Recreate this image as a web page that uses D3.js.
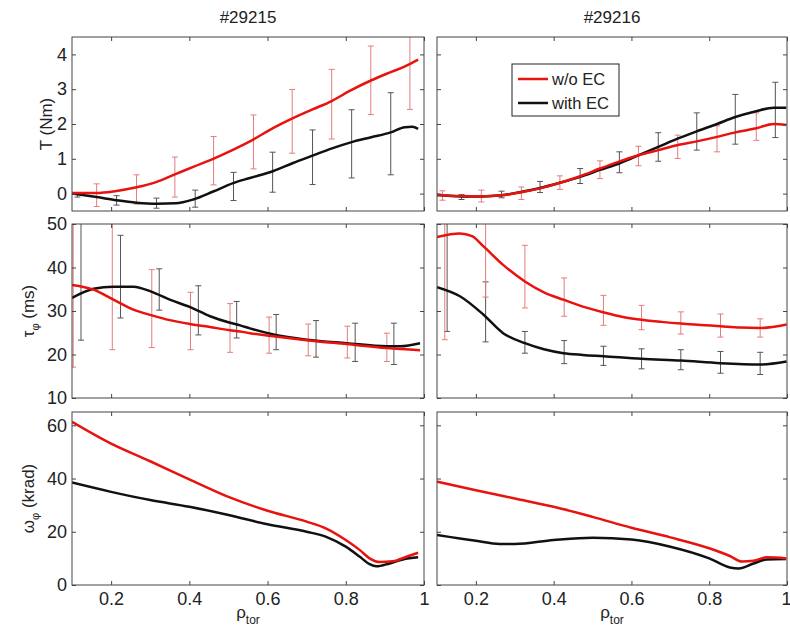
<!DOCTYPE html>
<html>
<head>
<meta charset="utf-8">
<script src="https://cdn.jsdelivr.net/npm/d3@7"></script>
<style>
  body { margin: 0; background: #fff; }
  text { font-family: "Liberation Sans", Arial, sans-serif; fill: #222; }
</style>
</head>
<body>
<div id="vis"></div>
<script>
// ---- data: [rho, value] and error bars [rho, low, high]
var xTicks = [0.2, 0.4, 0.6, 0.8, 1];
var shots = ["#29215", "#29216"];
var seriesNames = ["w/o EC", "with EC"];

// torque T (Nm)
var torque15_wo = [[0.1,0.02],[0.163,0.02],[0.21,0.07],[0.265,0.18],[0.315,0.33],[0.363,0.55],[0.41,0.77],[0.461,1.0],[0.51,1.25],[0.555,1.5],[0.615,1.89],[0.665,2.17],[0.715,2.42],[0.764,2.66],[0.81,2.95],[0.864,3.25],[0.91,3.47],[0.95,3.65],[0.985,3.85]];
var torque15_with = [[0.1,0.0],[0.163,-0.1],[0.214,-0.19],[0.265,-0.26],[0.317,-0.29],[0.365,-0.28],[0.41,-0.17],[0.461,0.06],[0.512,0.3],[0.555,0.45],[0.615,0.65],[0.665,0.88],[0.715,1.09],[0.765,1.3],[0.815,1.48],[0.865,1.62],[0.915,1.76],[0.951,1.91],[0.97,1.92],[0.985,1.86]];
var torque15_woErr = [[0.163,-0.37,0.28],[0.265,-0.3,0.54],[0.363,-0.1,1.05],[0.462,0.25,1.64],[0.564,0.71,2.26],[0.663,1.16,2.99],[0.764,1.57,3.57],[0.864,2.27,4.24],[0.964,2.42,4.9]];
var torque15_withErr = [[0.114,-0.1,0.02],[0.214,-0.33,-0.06],[0.316,-0.42,-0.13],[0.415,-0.39,0.1],[0.513,-0.2,0.61],[0.613,0.04,1.19],[0.715,0.26,1.83],[0.815,0.45,2.41],[0.915,0.54,2.9]];

var torque16_wo = [[0.1,-0.04],[0.159,-0.07],[0.214,-0.08],[0.265,-0.05],[0.313,0.03],[0.365,0.15],[0.416,0.31],[0.468,0.5],[0.519,0.72],[0.568,0.92],[0.618,1.1],[0.669,1.25],[0.717,1.39],[0.768,1.5],[0.82,1.63],[0.867,1.76],[0.918,1.87],[0.966,2.0],[0.998,1.97]];
var torque16_with = [[0.1,-0.04],[0.163,-0.08],[0.214,-0.08],[0.266,-0.05],[0.313,0.04],[0.365,0.16],[0.416,0.31],[0.468,0.48],[0.519,0.68],[0.571,0.88],[0.618,1.1],[0.669,1.34],[0.717,1.57],[0.768,1.79],[0.82,2.0],[0.867,2.2],[0.918,2.36],[0.966,2.47],[0.998,2.47]];
var torque16_woErr = [[0.114,-0.19,0.08],[0.214,-0.24,0.1],[0.317,-0.17,0.19],[0.416,0.12,0.51],[0.519,0.43,0.94],[0.618,0.8,1.36],[0.719,1.01,1.68],[0.82,1.2,1.95],[0.921,1.53,2.32]];
var torque16_withErr = [[0.163,-0.17,-0.03],[0.266,-0.12,0.07],[0.365,0.03,0.35],[0.468,0.29,0.72],[0.569,0.6,1.2],[0.669,0.93,1.75],[0.768,1.25,2.32],[0.867,1.42,2.85],[0.97,1.61,3.2]];

// momentum confinement time tau (ms)
var tau15_wo = [[0.1,36.0],[0.155,34.9],[0.206,32.6],[0.257,30.3],[0.304,29.0],[0.35,27.9],[0.402,27.0],[0.453,26.3],[0.504,25.6],[0.53,25.3],[0.555,24.9],[0.615,24.2],[0.7,23.3],[0.802,22.4],[0.905,21.5],[0.99,21.0]];
var tau15_with = [[0.1,33.0],[0.155,35.1],[0.206,35.6],[0.257,35.6],[0.304,34.4],[0.35,32.6],[0.402,30.9],[0.453,28.8],[0.504,27.3],[0.53,26.7],[0.555,26.0],[0.615,24.6],[0.7,23.4],[0.802,22.6],[0.905,21.9],[0.939,21.9],[0.99,22.6]];
var tau15_woErr = [[0.103,17.1,55],[0.203,21.1,55],[0.304,21.6,39.5],[0.403,21.1,34.3],[0.504,20.5,31.7],[0.604,20.3,28.6],[0.704,19.7,27.0],[0.804,19.2,26.5],[0.905,18.4,24.9]];
var tau15_withErr = [[0.123,23.3,55],[0.224,28.4,47.4],[0.323,30.2,39.7],[0.423,24.5,35.8],[0.521,23.8,32.2],[0.622,21.1,29.2],[0.724,19.4,27.8],[0.824,18.4,27.2],[0.923,17.7,27.2]];

var tau16_wo = [[0.1,47.0],[0.159,47.8],[0.19,47.2],[0.219,44.9],[0.27,40.6],[0.326,36.8],[0.375,34.3],[0.425,32.6],[0.475,31.0],[0.528,29.7],[0.575,28.7],[0.626,28.0],[0.677,27.5],[0.727,27.1],[0.778,26.8],[0.829,26.5],[0.88,26.2],[0.931,26.1],[0.999,26.9]];
var tau16_with = [[0.1,35.5],[0.159,33.4],[0.219,29.2],[0.27,24.9],[0.326,22.6],[0.375,21.2],[0.425,20.3],[0.475,19.9],[0.528,19.6],[0.626,19.0],[0.727,18.6],[0.829,18.0],[0.931,17.7],[0.999,18.4]];
var tau16_woErr = [[0.12,23.4,71],[0.225,33.2,56],[0.326,30.7,45.1],[0.427,28.8,37.6],[0.528,26.7,33.6],[0.626,25.7,31.3],[0.727,24.7,29.8],[0.829,24.0,29.3],[0.931,24.0,28.2]];
var tau16_withErr = [[0.126,25.3,55],[0.225,22.9,36.7],[0.326,20.3,25.3],[0.427,17.9,23.2],[0.528,17.5,21.9],[0.626,16.7,21.3],[0.727,16.5,21.1],[0.829,15.7,20.7],[0.931,15.4,20.5]];

// toroidal rotation omega (krad)
var omega15_wo = [[0.1,61.3],[0.2,53.1],[0.3,46.5],[0.4,39.7],[0.5,33.1],[0.6,27.9],[0.7,23.8],[0.75,21.2],[0.8,16.9],[0.836,13.1],[0.861,10.0],[0.887,8.6],[0.92,8.9],[0.955,10.6],[0.985,12.1]];
var omega15_with = [[0.1,38.5],[0.2,35.0],[0.3,31.9],[0.4,29.4],[0.5,26.3],[0.6,22.8],[0.7,20.0],[0.75,18.1],[0.8,14.4],[0.836,10.6],[0.861,7.8],[0.878,7.0],[0.912,8.1],[0.946,9.6],[0.985,10.4]];
var omega16_wo = [[0.1,38.8],[0.2,35.6],[0.3,32.5],[0.4,29.4],[0.5,25.6],[0.6,21.5],[0.7,17.9],[0.8,13.8],[0.853,10.9],[0.884,8.8],[0.914,9.1],[0.948,10.4],[0.998,10.0]];
var omega16_with = [[0.1,18.8],[0.2,16.6],[0.261,15.4],[0.3,15.4],[0.4,16.9],[0.5,17.8],[0.6,17.1],[0.7,14.4],[0.8,10.0],[0.853,6.6],[0.876,6.2],[0.914,8.1],[0.948,9.6],[0.998,9.8]];

var torqueTicks = [0, 1, 2, 3, 4];
var tauTicks = [10, 20, 30, 40, 50];
var omegaTicks = [0, 20, 40, 60];

// ---- layout
var width = 790, height = 633;
var red = "#e8120f", black = "#111", redBar = "#e57c7c", blackBar = "#555";
var tickFont = 18, labelFont = 17;

var svg = d3.select("#vis").append("svg")
    .attr("width", width)
    .attr("height", height);

var cols = [{x0: 72, x1: 424}, {x0: 437, x1: 787}];
var rows = [
  {y0: 37, y1: 211, domain: [-0.5, 4.5], ticks: torqueTicks, label: [["T (Nm)"]], lx: 52},
  {y0: 224, y1: 398, domain: [10, 50], ticks: tauTicks, label: [["τ"], ["φ", "sub"], [" (ms)"]], lx: 34},
  {y0: 412, y1: 585, domain: [0, 65], ticks: omegaTicks, label: [["ω"], ["φ", "sub"], [" (krad)"]], lx: 34}
];

var panels = [
  {r: 0, c: 0, lines: [[torque15_with, torque15_withErr], [torque15_wo, torque15_woErr]]},
  {r: 0, c: 1, lines: [[torque16_with, torque16_withErr], [torque16_wo, torque16_woErr]]},
  {r: 1, c: 0, lines: [[tau15_with, tau15_withErr], [tau15_wo, tau15_woErr]]},
  {r: 1, c: 1, lines: [[tau16_with, tau16_withErr], [tau16_wo, tau16_woErr]]},
  {r: 2, c: 0, lines: [[omega15_with, null], [omega15_wo, null]]},
  {r: 2, c: 1, lines: [[omega16_with, null], [omega16_wo, null]]}
];

function styleAxis(g) {
  g.select(".domain").remove();
  g.selectAll(".tick line").attr("stroke", "#444");
  g.selectAll(".tick text").attr("font-size", tickFont)
      .attr("font-family", "Liberation Sans, Arial, sans-serif").attr("fill", "#1a1a1a");
}

panels.forEach(function (p, i) {
  var col = cols[p.c], row = rows[p.r];
  var x = d3.scaleLinear().domain([0.1, 1]).range([col.x0, col.x1]);
  var y = d3.scaleLinear().domain(row.domain).range([row.y1, row.y0]);
  var none = function () { return ""; };

  svg.append("clipPath").attr("id", "clip" + i)
    .append("rect").attr("x", col.x0).attr("y", row.y0)
    .attr("width", col.x1 - col.x0).attr("height", row.y1 - row.y0);

  var g = svg.append("g").attr("clip-path", "url(#clip" + i + ")");

  // error bars first, black series then red
  p.lines.forEach(function (s, k) {
    if (!s[1]) return;
    var col2 = k === 0 ? blackBar : redBar;
    var eb = g.selectAll(null).data(s[1]).enter().append("g")
        .attr("stroke", col2).attr("stroke-width", 1).attr("fill", "none");
    eb.append("line")
        .attr("x1", function (d) { return x(d[0]); }).attr("x2", function (d) { return x(d[0]); })
        .attr("y1", function (d) { return y(d[1]); }).attr("y2", function (d) { return y(d[2]); });
    eb.append("line")
        .attr("x1", function (d) { return x(d[0]) - 3; }).attr("x2", function (d) { return x(d[0]) + 3; })
        .attr("y1", function (d) { return y(d[1]); }).attr("y2", function (d) { return y(d[1]); });
    eb.append("line")
        .attr("x1", function (d) { return x(d[0]) - 3; }).attr("x2", function (d) { return x(d[0]) + 3; })
        .attr("y1", function (d) { return y(d[2]); }).attr("y2", function (d) { return y(d[2]); });
  });

  var line = d3.line()
      .x(function (d) { return x(d[0]); })
      .y(function (d) { return y(d[1]); })
      .curve(d3.curveMonotoneX);

  p.lines.forEach(function (s, k) {
    g.append("path").datum(s[0])
      .attr("d", line)
      .attr("fill", "none")
      .attr("stroke", k === 0 ? black : red)
      .attr("stroke-width", 2.5);
  });

  // axes: inward ticks on all four sides
  var bottom = svg.append("g").attr("transform", "translate(0," + row.y1 + ")")
    .call(d3.axisBottom(x).tickValues(xTicks).tickSizeInner(-4).tickSizeOuter(0).tickPadding(7)
      .tickFormat(p.r === 2 ? d3.format("") : none))
    .call(styleAxis);
  // the last "1" sits at the page edge in the right column, keep it on the page
  if (p.r === 2 && p.c === 1) {
    bottom.selectAll(".tick text").filter(function (d) { return d === 1; })
      .attr("text-anchor", "end").attr("dx", 4);
  }
  svg.append("g").attr("transform", "translate(0," + row.y0 + ")")
    .call(d3.axisTop(x).tickValues(xTicks).tickSizeInner(-4).tickSizeOuter(0).tickFormat(none))
    .call(styleAxis);
  svg.append("g").attr("transform", "translate(" + col.x0 + ",0)")
    .call(d3.axisLeft(y).tickValues(row.ticks).tickSizeInner(-4).tickSizeOuter(0).tickPadding(5)
      .tickFormat(p.c === 0 ? d3.format("") : none))
    .call(styleAxis);
  svg.append("g").attr("transform", "translate(" + col.x1 + ",0)")
    .call(d3.axisRight(y).tickValues(row.ticks).tickSizeInner(-4).tickSizeOuter(0).tickFormat(none))
    .call(styleAxis);

  svg.append("rect")
    .attr("x", col.x0).attr("y", row.y0)
    .attr("width", col.x1 - col.x0).attr("height", row.y1 - row.y0)
    .attr("fill", "none").attr("stroke", "#444").attr("stroke-width", 1);
});

// column titles and x labels
cols.forEach(function (c, i) {
  svg.append("text")
    .attr("x", (c.x0 + c.x1) / 2).attr("y", 23)
    .attr("text-anchor", "middle").attr("font-size", labelFont)
    .text(shots[i]);

  var xl = svg.append("text")
    .attr("x", (c.x0 + c.x1) / 2).attr("y", 618)
    .attr("text-anchor", "middle").attr("font-size", labelFont);
  xl.append("tspan").text("ρ");
  xl.append("tspan").attr("dy", 6).attr("font-size", 12).text("tor");
});

// y labels
rows.forEach(function (r) {
  var cy = (r.y0 + r.y1) / 2;
  var t = svg.append("text")
    .attr("transform", "translate(" + r.lx + "," + cy + ") rotate(-90)")
    .attr("text-anchor", "middle").attr("font-size", labelFont);
  var shift = 0;
  r.label.forEach(function (part) {
    var ts = t.append("tspan").text(part[0]);
    if (part[1] === "sub") { ts.attr("dy", 5).attr("font-size", 11); shift = 5; }
    else if (shift) { ts.attr("dy", -shift); shift = 0; }
  });
});

// legend
var legend = svg.append("g");
legend.append("rect")
  .attr("x", 512).attr("y", 64).attr("width", 107).attr("height", 52)
  .attr("fill", "#fff").attr("stroke", "#222").attr("stroke-width", 1);
[red, black].forEach(function (c, i) {
  var ly = 79 + i * 24;
  legend.append("line").attr("x1", 518).attr("x2", 548).attr("y1", ly).attr("y2", ly)
    .attr("stroke", c).attr("stroke-width", 2.5);
  legend.append("text").attr("x", 552).attr("y", ly + 6).attr("font-size", 16.5)
    .text(seriesNames[i]);
});
</script>
</body>
</html>
